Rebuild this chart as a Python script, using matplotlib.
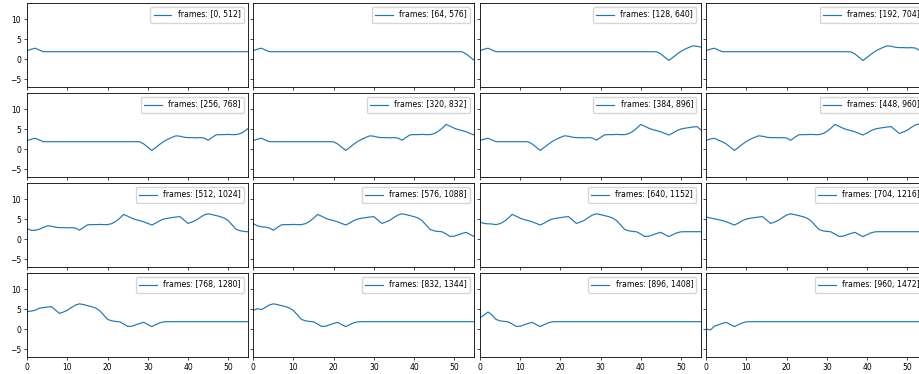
import matplotlib
matplotlib.use("Agg")
import matplotlib.pyplot as plt
import numpy as np

# Start frame of each 512-frame analysis window (one panel per window)
frame_starts = [0, 64, 128, 192, 256, 320, 384, 448,
                512, 576, 640, 704, 768, 832, 896, 960]
window_frames = 512
frames_per_step = 8      # one feature value every 8 frames
points_per_window = 56   # feature values shown per window

# Feature track over the whole recording (one value per 8 frames)
feature = [
    1.83, 1.83, 1.83, 1.83, 1.83, 1.83, 1.83, 1.83, 1.83, 1.83,   # 0-9
    1.83, 1.83, 1.83, 1.83, 1.83, 1.83, 1.83, 1.83, 1.83, 1.83,   # 10-19
    1.83, 1.83, 1.83, 1.83, 1.83, 1.83, 1.83, 1.83, 1.83, 1.83,   # 20-29
    1.83, 1.83, 1.83, 1.83, 1.83, 1.83, 1.83, 1.83, 1.83, 1.83,   # 30-39
    1.83, 1.83, 1.83, 1.83, 1.83, 1.83, 1.83, 1.83, 1.83, 1.83,   # 40-49
    1.83, 1.83, 1.83, 1.83, 1.83, 1.83, 1.83, 1.83, 1.83, 1.83,   # 50-59
    1.80, 1.25, 0.45, -0.35, 0.40, 1.20, 1.90, 2.45, 2.90, 3.30,  # 60-69
    3.20, 2.95, 2.85, 2.85, 2.80, 2.85, 2.75, 2.20, 2.90, 3.55,   # 70-79
    3.60, 3.60, 3.65, 3.60, 3.60, 3.85, 4.40, 5.20, 6.15, 5.70,   # 80-89
    5.20, 4.85, 4.60, 4.30, 3.90, 3.50, 4.00, 4.60, 5.00, 5.20,   # 90-99
    5.35, 5.50, 5.60, 4.75, 3.90, 4.25, 4.70, 5.40, 6.00, 6.30,   # 100-109
    6.10, 5.85, 5.60, 5.25, 4.60, 3.50, 2.40, 2.05, 1.90, 1.80,   # 110-119
    1.25, 0.65, 0.70, 1.05, 1.40, 1.67, 1.10, 0.60, 1.10, 1.55,   # 120-129
    1.80, 1.83, 1.83, 1.83, 1.83, 1.83, 1.83, 1.83, 1.83, 1.83,   # 130-139
    1.83, 1.83, 1.83, 1.83, 1.83, 1.83, 1.83, 1.83, 1.83, 1.83,   # 140-149
    1.83, 1.83, 1.83, 1.83, 1.83, 1.83, 1.83, 1.83, 1.83, 1.83,   # 150-159
    1.83, 1.83, 1.83, 1.83, 1.83, 1.83, 1.83, 1.83, 1.83, 1.83,   # 160-169
    1.83, 1.83, 1.83, 1.83, 1.83, 1.83,                           # 170-175
]

# Leading values of each window (warm-up at the window start)
window_heads = [
    [2.10, 2.45, 2.70, 2.25],
    [2.10, 2.45, 2.70, 2.25],
    [2.10, 2.45, 2.70, 2.25],
    [2.10, 2.45, 2.70, 2.25],
    [2.10, 2.45, 2.70, 2.25],
    [2.10, 2.45, 2.70, 2.25],
    [2.15, 2.45, 2.70, 2.25],
    [2.15, 2.50, 2.70, 2.20],
    [2.60, 2.15, 2.20],
    [3.85, 3.30, 3.05, 3.00],
    [4.25, 3.90, 3.80, 3.75],
    [5.50, 5.25, 5.05],
    [4.35, 4.50, 4.70],
    [4.65, 5.10, 4.85],
    [2.75, 3.50, 4.25],
    [0.00, -0.25],
]

x_ticks = [0, 10, 20, 30, 40, 50]
y_ticks = [-5, 0, 5, 10]

W, H = 919, 374
fig = plt.figure(figsize=(W / 100, H / 100), dpi=100)

col_left = [27.3, 253.3, 480.0, 706.3]
row_top = [2.7, 92.7, 182.7, 272.7]
ax_w, ax_h = 221.0, 84.0

feature = np.asarray(feature)
for i, start in enumerate(frame_starts):
    r, c = divmod(i, 4)
    ax = fig.add_axes([col_left[c] / W, (H - row_top[r] - ax_h) / H,
                       ax_w / W, ax_h / H])
    k = start // frames_per_step
    values = feature[k:k + points_per_window].copy()
    head = window_heads[i]
    values[:len(head)] = head
    x = np.arange(points_per_window)
    ax.plot(x, values, color="#1f77b4", lw=0.85,
            label=f"frames: [{start}, {start + window_frames}]")

    ax.set_xlim(0, 55)
    ax.set_ylim(-6.92, 14.08)
    ax.set_xticks(x_ticks)
    ax.set_yticks(y_ticks)
    ax.tick_params(labelsize=5.5, length=2.4, width=0.5, pad=1.9)
    if r != 3:
        ax.tick_params(labelbottom=False)
    if c != 0:
        ax.tick_params(labelleft=False)
    for sp in ax.spines.values():
        sp.set_linewidth(0.6)

    ax.legend(loc="upper right", fontsize=5.6, handlelength=2.3,
              borderaxespad=0.6, framealpha=0.8)

fig.savefig("out.png", dpi=100)
